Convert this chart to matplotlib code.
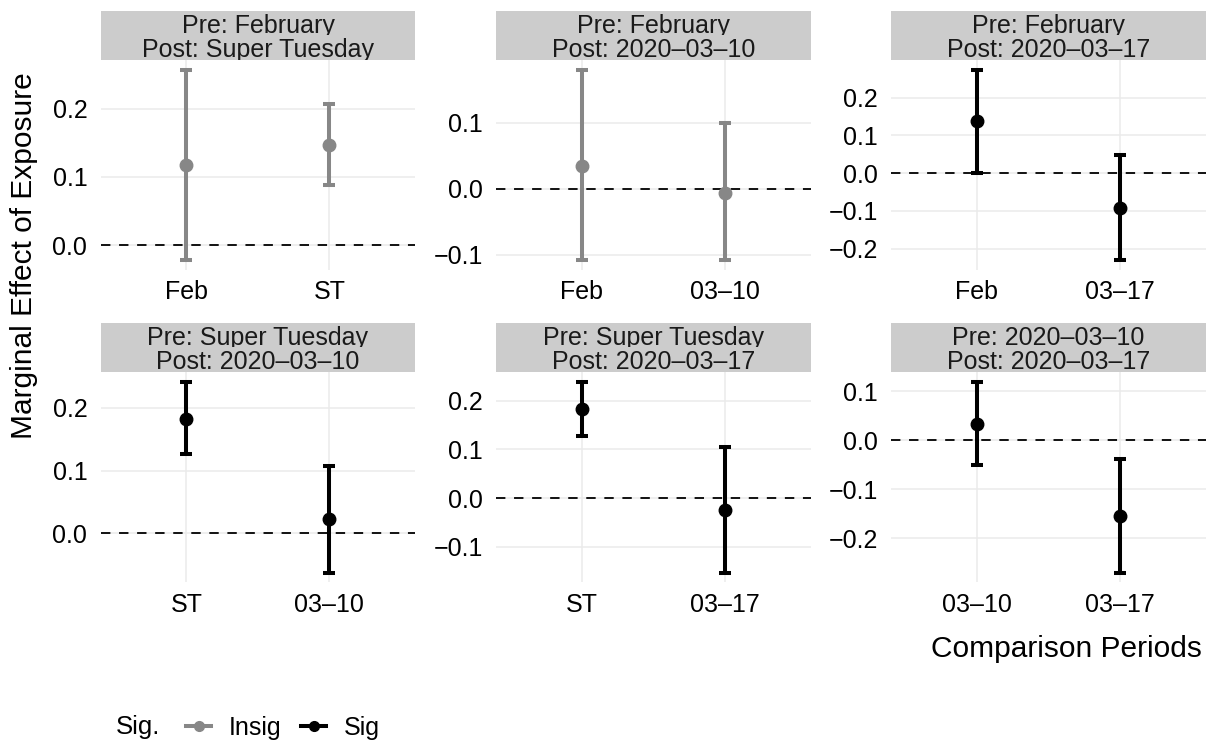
import matplotlib
matplotlib.use("Agg")
import matplotlib.pyplot as plt
from matplotlib.lines import Line2D
from matplotlib.patches import Rectangle
from matplotlib.ticker import MultipleLocator, FuncFormatter

plt.rcParams['font.family'] = ['Liberation Sans', 'DejaVu Sans']

# facet titles (pre / post period)
pre_titles = ["Pre: February", "Pre: February", "Pre: February",
              "Pre: Super Tuesday", "Pre: Super Tuesday", "Pre: 2020–03–10"]
post_titles = ["Post: Super Tuesday", "Post: 2020–03–10", "Post: 2020–03–17",
               "Post: 2020–03–10", "Post: 2020–03–17", "Post: 2020–03–17"]
period_labels = [["Feb", "ST"], ["Feb", "03–10"], ["Feb", "03–17"],
                 ["ST", "03–10"], ["ST", "03–17"], ["03–10", "03–17"]]

# marginal effects with confidence bounds
estimates = [[0.117, 0.146], [0.035, -0.006], [0.138, -0.092],
             [0.183, 0.023], [0.182, -0.024], [0.033, -0.154]]
lower = [[-0.022, 0.089], [-0.109, -0.109], [0.001, -0.231],
         [0.127, -0.063], [0.127, -0.153], [-0.051, -0.271]]
upper = [[0.257, 0.206], [0.181, 0.100], [0.274, 0.049],
         [0.242, 0.108], [0.239, 0.105], [0.120, -0.039]]
significant = [[False, False], [False, False], [True, True],
               [True, True], [True, True], [True, True]]

col_insig = '#878787'
col_sig = '#000000'

W, H = 1207, 746
fig = plt.figure(figsize=(W / 100, H / 100), dpi=100)


def fx(px):
    return px / W


def fy(py):
    return 1 - py / H


panel_lefts = [100.7, 496, 891]
panel_w = 314.5
rows = [(60, 270), (372, 582.3)]
strip_h = 49

fmt = FuncFormatter(lambda v, p: ('%.1f' % v).replace('-', '−'))

for i in range(6):
    r, c = divmod(i, 3)
    top, bot = rows[r]
    ax = fig.add_axes([fx(panel_lefts[c]), fy(bot), panel_w / W, (bot - top) / H])

    lo_all = min(lower[i])
    hi_all = max(upper[i])
    span = hi_all - lo_all
    ax.set_ylim(lo_all - 0.05 * span, hi_all + 0.05 * span)
    ax.set_xlim(0.4, 2.6)

    ax.axhline(0, color='black', lw=1.3, ls=(0, (5.2, 4.8)), zorder=2)
    for j in range(2):
        col = col_sig if significant[i][j] else col_insig
        ax.errorbar([j + 1], [estimates[i][j]],
                    yerr=[[estimates[i][j] - lower[i][j]], [upper[i][j] - estimates[i][j]]],
                    fmt='o', color=col, ms=9, elinewidth=2.9, capsize=4.6,
                    capthick=2.9, zorder=3)

    ax.set_xticks([1, 2])
    ax.set_xticklabels(period_labels[i])
    ax.yaxis.set_major_locator(MultipleLocator(0.1))
    ax.yaxis.set_major_formatter(fmt)
    ax.tick_params(axis='both', length=0, labelsize=18, colors='black')
    ax.tick_params(axis='x', pad=7.5)
    ax.tick_params(axis='y', pad=9.6)
    ax.grid(True, color='#EBEBEB', lw=1.1)
    ax.set_axisbelow(True)
    for s in ax.spines.values():
        s.set_visible(False)

    # facet strip
    sax = fig.add_axes([fx(panel_lefts[c]), fy(top), panel_w / W, strip_h / H])
    sax.set_facecolor('#CCCCCC')
    sax.set_xticks([])
    sax.set_yticks([])
    for s in sax.spines.values():
        s.set_visible(False)
    t1 = sax.text(0.5, 1 - 22.3 / strip_h, pre_titles[i], ha='center', va='baseline',
                  fontsize=18, color='#1A1A1A', transform=sax.transAxes)
    t1.set_clip_path(Rectangle((0, 1 - 23.8 / strip_h), 1, 23.8 / strip_h,
                               transform=sax.transAxes))
    t1.set_clip_on(True)
    t2 = sax.text(0.5, 1 - 45.7 / strip_h, post_titles[i], ha='center', va='baseline',
                  fontsize=18, color='#1A1A1A', transform=sax.transAxes)
    t2.set_clip_on(True)

fig.text(fx(24), fy(256), 'Marginal Effect of Exposure', rotation=90,
         ha='center', va='center', fontsize=21.5)
fig.text(fx(1202), fy(657), 'Comparison Periods', ha='right', va='baseline', fontsize=21.5)

# legend
fig.text(fx(116), fy(734), 'Sig.', ha='left', va='baseline', fontsize=18.5)
handles = [Line2D([], [], color=col_insig, marker='o', lw=2.9, ms=7),
           Line2D([], [], color=col_sig, marker='o', lw=2.9, ms=7)]
fig.legend(handles=handles, labels=['Insig', 'Sig'], ncol=2, loc='center left',
           bbox_to_anchor=(fx(186), fy(728)), frameon=False, fontsize=18,
           handlelength=1.0, handletextpad=0.7, columnspacing=0.8,
           borderpad=0, borderaxespad=0)

fig.savefig('out.png', dpi=100)
